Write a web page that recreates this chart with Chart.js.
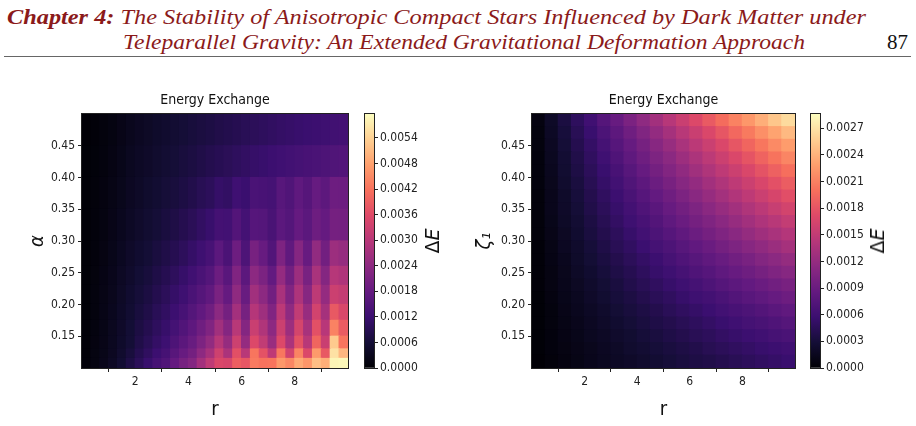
<!DOCTYPE html>
<html>
<head>
<meta charset="utf-8">
<script src="https://cdn.jsdelivr.net/npm/chart.js@4.4.1/dist/chart.umd.min.js"></script>
<style>
body{margin:0;width:916px;height:426px;background:#fff;position:relative;overflow:hidden}
.hd{position:absolute;white-space:nowrap;font-family:'Liberation Serif',serif;font-style:italic;color:#8b1a1a;font-size:21px;line-height:24px;transform-origin:0 50%}
#l1{left:7px;top:5px}
#l2{left:123px;top:30px}
#pg{position:absolute;left:887px;top:30px;font-family:'Liberation Serif',serif;font-size:21px;line-height:24px;color:#111}
#rule{position:absolute;left:4px;top:56px;width:907px;height:1px;background:#666}
canvas{position:absolute}
.de{position:absolute;top:241px;font-family:'DejaVu Sans',sans-serif;font-size:19px;color:#111;white-space:nowrap;transform:translate(-50%,-50%) rotate(-90deg)}
</style>
</head>
<body>
<div class="hd" id="l1"><b>Chapter 4:</b> The Stability of Anisotropic Compact Stars Influenced by Dark Matter under</div>
<div class="hd" id="l2">Teleparallel Gravity: An Extended Gravitational Deformation Approach</div>
<div id="pg">87</div>
<div id="rule"></div>

<canvas id="hmL" width="360" height="346" style="left:0;top:80px"></canvas>
<canvas id="cbL" width="100" height="346" style="left:355px;top:80px"></canvas>
<canvas id="hmR" width="360" height="346" style="left:450px;top:80px"></canvas>
<canvas id="cbR" width="100" height="346" style="left:801px;top:80px"></canvas>
<div class="de" style="left:432px">&Delta;<i>E</i></div>
<div class="de" style="left:877px">&Delta;<i>E</i></div>

<script>
// left panel: r columns (30) and alpha row edges (12 rows)
const rLeft = [0.17,0.5,0.83,1.17,1.5,1.83,2.17,2.5,2.83,3.17,3.5,3.83,4.17,4.5,4.83,5.17,5.5,5.83,6.17,6.5,6.83,7.17,7.5,7.83,8.17,8.5,8.83,9.17,9.5,9.83];
const alphaEdges = [0.10,0.115,0.13,0.15,0.175,0.20,0.23,0.26,0.30,0.35,0.40,0.45,0.50];
// delta E, units of 1e-5, rows bottom -> top
const dELeft = [
  [6,16,26,38,55,75,95,115,135,150,180,205,225,270,310,352,346,390,378,430,420,422,468,446,489,466,515,495,585,590],
  [5,15,24,35,50,67,86,102,120,135,161,183,203,240,274,332,281,367,300,424,372,308,426,337,442,353,470,382,560,507],
  [5,14,23,33,46,60,78,92,108,122,145,165,185,215,245,297,251,330,249,354,313,257,354,281,371,300,400,325,530,423],
  [5,13,22,32,44,58,73,85,100,113,133,151,170,195,220,267,226,300,227,325,288,239,329,260,343,276,369,299,440,387],
  [4,12,21,31,43,55,68,78,92,104,121,137,155,175,195,237,202,270,205,295,264,220,305,241,313,253,338,273,382,350],
  [4,12,20,29,41,52,63,72,84,96,110,124,141,157,173,211,180,243,185,267,239,200,278,220,286,230,307,249,328,318],
  [4,11,19,27,38,48,58,66,77,87,99,112,126,141,156,191,163,220,167,239,213,178,249,198,260,209,279,226,297,287],
  [3,10,17,25,34,44,52,60,69,78,87,98,110,123,136,166,142,192,145,207,183,153,216,173,228,184,245,199,260,251],
  [3,9,15,23,31,39,47,54,61,69,76,85,94,105,115,132,129,154,133,159,155,139,166,156,180,166,192,180,204,202],
  [3,8,14,20,28,36,42,49,55,62,67,74,81,90,97,110,106,125,118,141,138,134,160,149,171,158,182,169,192,190],
  [3,7,12,18,25,33,39,44,50,56,61,67,72,78,84,89,94,100,105,111,115,120,125,129,134,138,141,145,149,152],
  [2,6,11,16,23,30,36,41,46,51,56,61,66,70,74,79,83,87,92,96,100,104,108,111,115,118,121,124,128,131]
];
const vmaxLeft = 596;

// right panel: r columns (20) and zeta_1 row edges (20 rows)
const rRight = [0.25,0.75,1.25,1.75,2.25,2.75,3.25,3.75,4.25,4.75,5.25,5.75,6.25,6.75,7.25,7.75,8.25,8.75,9.25,9.75];
const zetaEdges = [0.10,0.12,0.14,0.16,0.18,0.20,0.22,0.24,0.26,0.28,0.30,0.32,0.34,0.36,0.38,0.40,0.42,0.44,0.46,0.48,0.50];
const dERight = [
  [1,4,7,10,13,16,19,21,24,27,30,33,36,38,41,44,47,50,53,56],
  [2,5,8,11,14,17,20,24,27,30,33,36,39,43,46,49,52,55,58,61],
  [2,5,9,12,16,19,23,26,30,33,37,40,44,47,51,54,58,61,65,68],
  [2,6,10,13,17,21,25,29,33,37,40,44,48,52,56,60,64,67,71,75],
  [2,6,11,15,19,23,28,32,36,40,45,49,53,57,62,66,70,74,79,83],
  [2,7,12,16,21,26,31,35,40,45,49,54,59,63,68,73,78,82,87,92],
  [3,8,13,18,23,28,33,39,44,49,54,59,64,70,75,80,85,90,95,100],
  [3,8,14,20,25,31,37,42,48,54,59,65,71,76,82,88,93,99,105,110],
  [3,9,15,22,28,34,40,46,52,58,65,71,77,83,89,95,101,108,114,120],
  [3,10,17,23,30,37,44,50,57,64,70,77,84,90,97,104,111,117,124,131],
  [4,11,18,25,33,40,47,54,62,69,76,83,91,98,105,112,120,127,134,141],
  [4,12,20,27,35,43,51,59,66,74,82,90,98,105,113,121,129,137,144,152],
  [4,13,21,29,38,46,54,63,71,79,88,96,104,113,121,129,138,146,155,163],
  [4,13,22,31,40,49,58,67,76,85,94,103,112,121,130,139,148,157,166,175],
  [5,14,24,33,43,53,62,72,81,91,100,110,119,129,138,148,158,167,177,186],
  [5,15,26,36,46,56,66,77,87,97,107,117,128,138,148,158,168,179,189,199],
  [5,16,27,38,49,60,71,82,93,104,114,125,136,147,158,169,180,191,202,213],
  [6,17,29,41,52,64,76,87,99,111,122,134,146,157,169,181,192,204,216,227],
  [6,19,31,44,56,69,81,94,106,119,131,144,156,169,181,194,206,219,231,244],
  [7,20,34,48,61,75,88,102,116,129,143,156,170,184,197,211,224,238,252,265]
];
const vmaxRight = 286;

const rTicks = [2,4,6,8];
const yTicks = [0.15,0.20,0.25,0.30,0.35,0.40,0.45];
const cbTicksLeft = [0,0.0006,0.0012,0.0018,0.0024,0.0030,0.0036,0.0042,0.0048,0.0054];
const cbTicksRight = [0,0.0003,0.0006,0.0009,0.0012,0.0015,0.0018,0.0021,0.0024,0.0027];

Chart.defaults.font.family = "'DejaVu Sans Condensed','DejaVu Sans',sans-serif";
Chart.defaults.color = '#222';

const magmaStops = ['#000004','#140e36','#3b0f70','#641a80','#8c2981','#b73779','#de4968','#f7705c','#fe9f6d','#fecf92','#fcfdbf'];
const magmaRgb = magmaStops.map(h => [1,3,5].map(i => parseInt(h.substr(i,2),16)));
function magma(t) {
  t = Math.max(0, Math.min(1, t));
  const p = t * (magmaRgb.length - 1);
  const i = Math.min(Math.floor(p), magmaRgb.length - 2);
  const f = p - i, a = magmaRgb[i], b = magmaRgb[i+1];
  return 'rgb(' + a.map((v,k) => Math.round(v + (b[k]-v)*f)).join(',') + ')';
}

const frame = {
  id: 'frame',
  afterDatasetsDraw(c) {
    const a = c.chartArea, x = c.ctx;
    x.save();
    x.strokeStyle = '#222';
    x.lineWidth = 1;
    x.strokeRect(Math.round(a.left)-0.5, Math.round(a.top)-0.5, Math.round(a.right-a.left)+1, Math.round(a.bottom-a.top)+1);
    x.restore();
  }
};

const tickFont = {size: 12};
const tickGrid = {drawOnChartArea: false, tickLength: 4, color: '#222'};

function heatmap(id, cols, rowEdges, grid, vmax, yLabel, yPad, rightPad) {
  const datasets = grid.map((row, j) => ({
    data: row.map(() => [rowEdges[j], rowEdges[j+1]]),
    backgroundColor: row.map(v => magma(v / vmax)),
    xAxisID: 'xc',
    grouped: false,
    borderWidth: 0,
    barPercentage: 1,
    categoryPercentage: 1,
    inflateAmount: 0.6
  }));
  return new Chart(document.getElementById(id), {
    type: 'bar',
    data: {labels: cols, datasets: datasets},
    options: {
      responsive: false,
      animation: false,
      layout: {padding: {right: rightPad}},
      plugins: {legend: {display: false}, tooltip: {enabled: false}},
      scales: {
        xc: {type: 'category', display: false},
        xt: {
          type: 'linear', position: 'top', min: 0, max: 10, offset: false,
          ticks: {display: false},
          grid: {display: false},
          border: {display: false},
          title: {display: true, text: 'Energy Exchange', color: '#111', font: {size: 14}, padding: {top: 11.6, bottom: 0}},
          afterFit: s => { s.height = 34; }
        },
        x: {
          type: 'linear', position: 'bottom', min: 0, max: 10, offset: false,
          afterBuildTicks: s => { s.ticks = rTicks.map(v => ({value: v})); },
          ticks: {font: tickFont, padding: 3},
          grid: tickGrid,
          border: {display: false},
          title: {display: true, text: 'r', color: '#111', font: {size: 20}, padding: {top: 0, bottom: 4}},
          afterFit: s => { s.height = 58; }
        },
        y: {
          type: 'linear', min: 0.1, max: 0.5,
          afterBuildTicks: s => { s.ticks = yTicks.map(v => ({value: v})); },
          ticks: {font: tickFont, padding: 3, callback: v => v.toFixed(2)},
          grid: tickGrid,
          border: {display: false},
          title: {display: true, text: yLabel, color: '#111', font: {size: 20, style: 'italic'}, padding: {top: yPad, bottom: 0}},
          afterFit: s => { s.width = 82; }
        }
      }
    },
    plugins: [frame]
  });
}

function colorbar(id, vmax, ticks) {
  return new Chart(document.getElementById(id), {
    type: 'bar',
    data: {
      labels: [''],
      datasets: [{
        data: [[0, vmax]],
        backgroundColor: c => {
          const a = c.chart.chartArea;
          if (!a) return null;
          const g = c.chart.ctx.createLinearGradient(0, a.bottom, 0, a.top);
          magmaStops.forEach((s, i) => g.addColorStop(i / (magmaStops.length - 1), s));
          return g;
        },
        barPercentage: 1,
        categoryPercentage: 1,
        borderWidth: 0
      }]
    },
    options: {
      responsive: false,
      animation: false,
      layout: {padding: {left: 10, top: 34, bottom: 58}},
      plugins: {legend: {display: false}, tooltip: {enabled: false}},
      scales: {
        x: {display: false},
        y: {
          position: 'right', min: 0, max: vmax,
          afterBuildTicks: s => { s.ticks = ticks.map(v => ({value: v})); },
          ticks: {font: tickFont, padding: 2, callback: v => v.toFixed(4)},
          grid: tickGrid,
          border: {display: false},
          afterFit: s => { s.width = 81; }
        }
      }
    },
    plugins: [frame]
  });
}

heatmap('hmL', rLeft, alphaEdges, dELeft, vmaxLeft, 'α', 26, 12);
heatmap('hmR', rRight, zetaEdges, dERight, vmaxRight, 'ζ₁', 23, 15);
colorbar('cbL', vmaxLeft * 1e-5, cbTicksLeft);
colorbar('cbR', vmaxRight * 1e-5, cbTicksRight);

// fit the header lines to the page widths
[['l1', 859], ['l2', 682]].forEach(([id, w]) => {
  const el = document.getElementById(id);
  el.style.transform = 'scaleX(' + (w / el.getBoundingClientRect().width) + ')';
});
</script>
</body>
</html>
